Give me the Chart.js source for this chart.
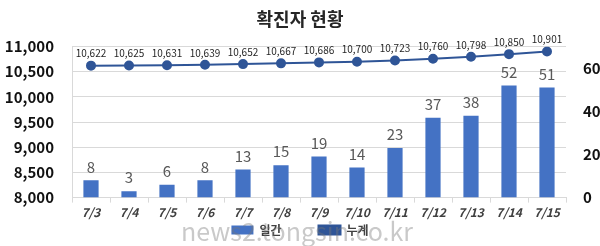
<!DOCTYPE html>
<html>
<head>
<meta charset="utf-8">
<script src="https://cdn.jsdelivr.net/npm/chart.js@4"></script>
<style>
  html, body { margin: 0; padding: 0; background: #fff; }
  #wrap { width: 600px; height: 246px; }
</style>
</head>
<body>
<div id="wrap"><canvas id="chart"></canvas></div>
<script>
const labels = ['7/3', '7/4', '7/5', '7/6', '7/7', '7/8', '7/9', '7/10', '7/11', '7/12', '7/13', '7/14', '7/15'];
const daily = [8, 3, 6, 8, 13, 15, 19, 14, 23, 37, 38, 52, 51];
const total = [10622, 10625, 10631, 10639, 10652, 10667, 10686, 10700, 10723, 10760, 10798, 10850, 10901];
const leftTicks = [8000, 8500, 9000, 9500, 10000, 10500, 11000];
const rightTicks = [0, 20, 40, 60];

const FONT = "'Noto Sans CJK KR', 'Noto Sans', sans-serif";

// data labels + watermark, drawn by hand
const valueLabels = {
    id: 'valueLabels',
    afterDatasetsDraw(chart) {
        const ctx = chart.ctx;
        ctx.save();
        ctx.textAlign = 'center';
        ctx.textBaseline = 'bottom';
        chart.getDatasetMeta(0).data.forEach((bar, i) => {
            ctx.font = '15px ' + FONT;
            ctx.fillStyle = '#595959';
            ctx.fillText(daily[i], bar.x, bar.y - 6);
        });
        chart.getDatasetMeta(1).data.forEach((pt, i) => {
            ctx.font = '10px ' + FONT;
            ctx.fillStyle = '#262626';
            ctx.fillText(total[i].toLocaleString('en-US'), pt.x, pt.y - 7);
        });
        ctx.restore();
    },
    afterDraw(chart) {
        const ctx = chart.ctx;
        ctx.save();
        ctx.font = '25px ' + FONT;
        ctx.textAlign = 'center';
        ctx.textBaseline = 'middle';
        ctx.fillStyle = 'rgba(120,120,120,0.4)';
        ctx.fillText('news2.tongsin.co.kr', 297, 231);
        ctx.restore();
    }
};

new Chart(document.getElementById('chart'), {
    data: {
        labels: labels,
        datasets: [{
            type: 'bar',
            label: '일간',
            data: daily,
            yAxisID: 'y1',
            backgroundColor: '#4472c4',
            barPercentage: 0.4,
            categoryPercentage: 1,
            order: 2
        }, {
            type: 'line',
            label: '누계',
            data: total,
            yAxisID: 'y',
            borderColor: '#2f5597',
            backgroundColor: '#2f5597',
            borderWidth: 2,
            pointRadius: 4,
            pointBackgroundColor: '#2f5597',
            tension: 0,
            order: 1
        }]
    },
    options: {
        responsive: true,
        maintainAspectRatio: false,
        animation: false,
        layout: { padding: { left: 0, right: 0, top: 0, bottom: 0 } },
        plugins: {
            title: {
                display: true,
                text: '확진자 현황',
                color: '#262626',
                font: { family: FONT, size: 18, weight: 'bold' },
                padding: { top: 8, bottom: 17 }
            },
            legend: {
                position: 'bottom',
                labels: {
                    color: '#404040',
                    font: { family: FONT, size: 12, weight: 'bold' },
                    boxWidth: 22,
                    boxHeight: 9,
                    padding: 1,
                    sort: (a, b) => a.datasetIndex - b.datasetIndex,
                    generateLabels: chart => {
                        const items = Chart.defaults.plugins.legend.labels.generateLabels(chart);
                        // wider gap after the first item, like the original
                        items.forEach(it => { if (it.datasetIndex === 0) it.text = it.text + '\u2003\u2003\u2003'; });
                        return items;
                    }
                }
            },
            tooltip: { enabled: false }
        },
        scales: {
            x: {
                grid: { offset: true, drawOnChartArea: false, tickLength: 5, color: '#d9d9d9' },
                border: { color: '#d9d9d9' },
                ticks: {
                    color: '#404040',
                    font: { family: FONT, size: 12, weight: 'bold', style: 'italic' },
                    padding: 3
                }
            },
            y: {
                position: 'left',
                min: 8000,
                max: 11000,
                afterBuildTicks: s => { s.ticks = leftTicks.map(v => ({ value: v })); },
                afterFit: s => { s.width = 72; },
                grid: { color: '#d9d9d9', drawTicks: false },
                border: { display: true, color: '#d9d9d9' },
                ticks: {
                    color: '#111',
                    padding: 18,
                    font: { family: FONT, size: 15, weight: 'bold' },
                    callback: v => v.toLocaleString('en-US')
                }
            },
            y1: {
                position: 'right',
                min: 0,
                max: 70,
                afterBuildTicks: s => { s.ticks = rightTicks.map(v => ({ value: v })); },
                afterFit: s => { s.width = 34; },
                grid: { display: false, drawTicks: false },
                border: { display: false },
                ticks: {
                    color: '#111',
                    padding: 17,
                    font: { family: FONT, size: 15, weight: 'bold' }
                }
            }
        }
    },
    plugins: [valueLabels]
});
</script>
</body>
</html>
